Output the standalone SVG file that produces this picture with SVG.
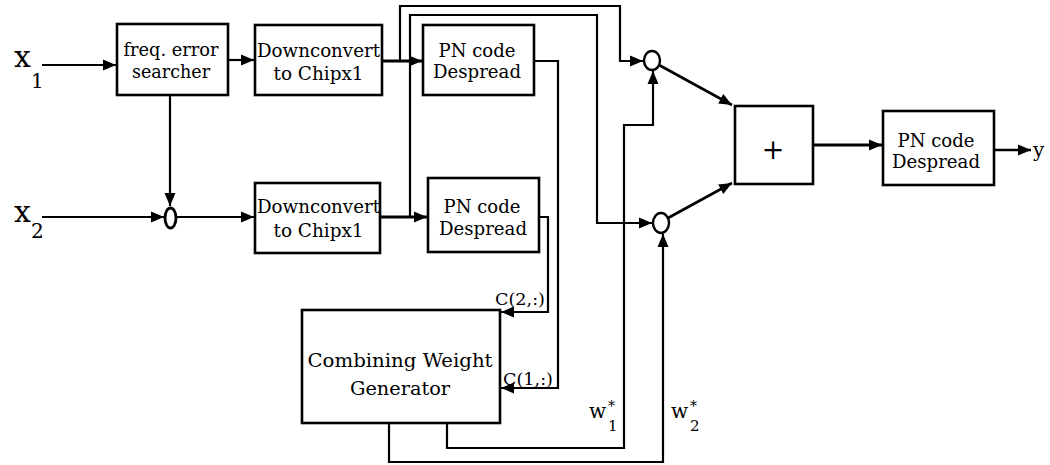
<svg xmlns="http://www.w3.org/2000/svg" width="1050" height="465" viewBox="0 0 1050 465">
<style>
  .box { fill: #fff; stroke: #000; stroke-width: 2.6; }
  .w { fill: none; stroke: #000; stroke-width: 2.2; stroke-linejoin: miter; }
  .t { font-family: "DejaVu Serif", "Liberation Serif", serif; font-size: 18px; fill: #000; text-anchor: middle; }
  .lbl { font-family: "DejaVu Serif", "Liberation Serif", serif; fill: #000; }
  .circ { fill: #fff; stroke: #000; stroke-width: 2.4; }
</style>
<defs>
  <marker id="ah" markerUnits="userSpaceOnUse" markerWidth="14" markerHeight="12" viewBox="0 0 14 12" refX="13" refY="6" orient="auto">
    <path d="M0,0.5 L13,6 L0,11.5 Z" fill="#000"/>
  </marker>
</defs>
<rect width="1050" height="465" fill="#fff"/>

<g id="connectors">
  <path class="w" d="M42,65 H116" marker-end="url(#ah)"/>
  <path class="w" d="M228,60 H254" marker-end="url(#ah)"/>
  <path class="w" d="M170,95 V206" marker-end="url(#ah)"/>
  <path class="w" d="M42,217 H164" marker-end="url(#ah)"/>
  <path class="w" d="M176,217 H254" marker-end="url(#ah)"/>
  <path class="w" d="M382,61 H422" marker-end="url(#ah)" style="stroke-width:2.8"/>
  <path class="w" d="M400,61 V6 H620 V61 H643" marker-end="url(#ah)"/>
  <path class="w" d="M380,217 H427" marker-end="url(#ah)" style="stroke-width:2.8"/>
  <path class="w" d="M410,217 V15 H597 V223 H652" marker-end="url(#ah)"/>
  <path class="w" d="M534,61 H558 V388 H501" marker-end="url(#ah)"/>
  <path class="w" d="M539,217 H548 V312 H501" marker-end="url(#ah)"/>
  <path class="w" d="M447,423 V448 H624 V125 H653 V71" marker-end="url(#ah)"/>
  <path class="w" d="M389,423 V462 H663 V234" marker-end="url(#ah)"/>
  <path class="w" d="M659,65 L732,105" marker-end="url(#ah)" style="stroke-width:2.6"/>
  <path class="w" d="M668,218 L732,183" marker-end="url(#ah)" style="stroke-width:2.6"/>
  <path class="w" d="M813,145 H882" marker-end="url(#ah)" style="stroke-width:2.8"/>
  <path class="w" d="M994,150 H1031" marker-end="url(#ah)" style="stroke-width:2.6"/>
</g>

<g id="freq-error-searcher">
  <rect class="box" x="117" y="24" width="111" height="71"/>
  <text class="t" x="171" y="56" textLength="95" lengthAdjust="spacingAndGlyphs">freq. error</text>
  <text class="t" x="171" y="78" textLength="78" lengthAdjust="spacingAndGlyphs">searcher</text>
</g>
<g id="downconvert-1">
  <rect class="box" x="255" y="25" width="127" height="70"/>
  <text class="t" x="318.5" y="57" textLength="123" lengthAdjust="spacingAndGlyphs">Downconvert</text>
  <text class="t" x="318.5" y="80" textLength="90" lengthAdjust="spacingAndGlyphs">to Chipx1</text>
</g>
<g id="downconvert-2">
  <rect class="box" x="255" y="183" width="125" height="70"/>
  <text class="t" x="318.5" y="213" textLength="123" lengthAdjust="spacingAndGlyphs">Downconvert</text>
  <text class="t" x="318.5" y="237" textLength="90" lengthAdjust="spacingAndGlyphs">to Chipx1</text>
</g>
<g id="mixer-x2">
  <ellipse class="circ" cx="170.5" cy="218" rx="5.5" ry="10" style="stroke-width:2.8"/>
</g>
<g id="pn-despread-1">
  <rect class="box" x="423" y="25" width="111" height="70"/>
  <text class="t" x="477" y="57" textLength="77" lengthAdjust="spacingAndGlyphs">PN code</text>
  <text class="t" x="477" y="78" textLength="88" lengthAdjust="spacingAndGlyphs">Despread</text>
</g>
<g id="pn-despread-2">
  <rect class="box" x="428" y="178" width="111" height="74"/>
  <text class="t" x="482" y="213" textLength="77" lengthAdjust="spacingAndGlyphs">PN code</text>
  <text class="t" x="483" y="235" textLength="88" lengthAdjust="spacingAndGlyphs">Despread</text>
</g>
<g id="combining-weight-generator">
  <rect class="box" x="302" y="310" width="198" height="113"/>
  <text class="t" x="400" y="367" textLength="185" lengthAdjust="spacingAndGlyphs">Combining Weight</text>
  <text class="t" x="400" y="395" textLength="100" lengthAdjust="spacingAndGlyphs">Generator</text>
</g>
<g id="multiplier-1">
  <ellipse class="circ" cx="652" cy="60.5" rx="8" ry="9.5"/>
</g>
<g id="multiplier-2">
  <ellipse class="circ" cx="661" cy="223" rx="8" ry="10"/>
</g>
<g id="summer">
  <rect class="box" x="735" y="106" width="78" height="78"/>
  <text class="t" x="773" y="159" style="font-size:27px">+</text>
</g>
<g id="pn-despread-3">
  <rect class="box" x="883" y="111" width="111" height="74"/>
  <text class="t" x="936" y="147" textLength="77" lengthAdjust="spacingAndGlyphs">PN code</text>
  <text class="t" x="936" y="168" textLength="88" lengthAdjust="spacingAndGlyphs">Despread</text>
</g>

<g id="labels">
  <text class="lbl" x="14" y="67" style="font-size:30px">x</text>
  <text class="lbl" x="31" y="88" style="font-size:20px">1</text>
  <text class="lbl" x="14" y="222" style="font-size:30px">x</text>
  <text class="lbl" x="31" y="238" style="font-size:20px">2</text>
  <text class="lbl" x="495" y="305" style="font-size:17px" textLength="50" lengthAdjust="spacingAndGlyphs">C(2,:)</text>
  <text class="lbl" x="503" y="385" style="font-size:17px" textLength="50" lengthAdjust="spacingAndGlyphs">C(1,:)</text>
  <text class="lbl" x="589" y="418" style="font-size:20px">w</text>
  <text class="lbl" x="608" y="411" style="font-size:14px">*</text>
  <text class="lbl" x="608" y="431" style="font-size:15px">1</text>
  <text class="lbl" x="671" y="418" style="font-size:20px">w</text>
  <text class="lbl" x="690" y="411" style="font-size:14px">*</text>
  <text class="lbl" x="690" y="431" style="font-size:15px">2</text>
  <text class="lbl" x="1033" y="157" style="font-size:20px">y</text>
</g>
</svg>
